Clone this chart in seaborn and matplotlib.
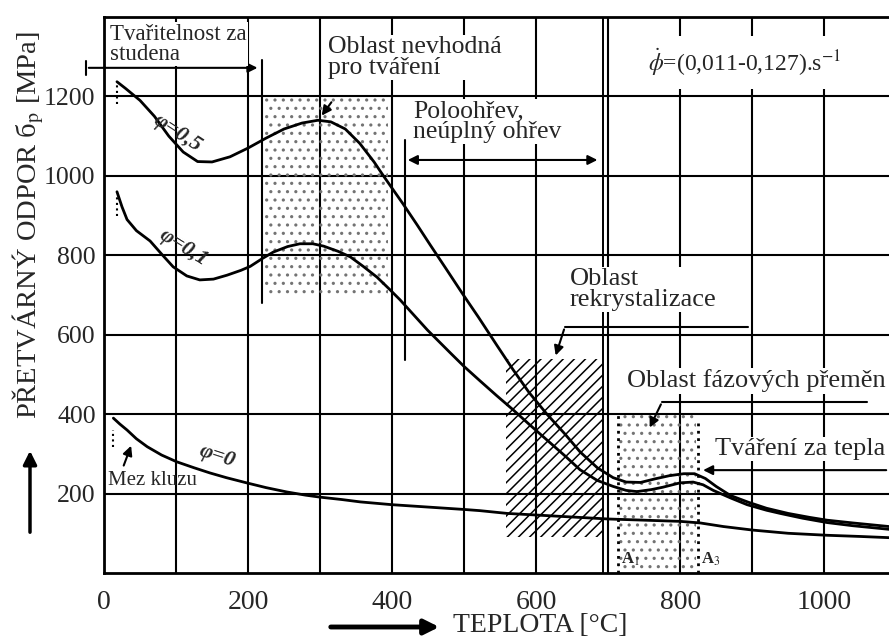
import pandas as pd
import matplotlib.pyplot as plt
import seaborn as sns

# krivky pretvarneho odporu (teplota [°C], odpor [MPa])
T_05 = [18, 30, 50, 70, 90, 110, 130, 150, 175, 200, 225, 250, 275, 297, 315, 335, 355, 375,
        388, 415, 435, 453, 475, 499, 520, 546, 568, 590, 615, 640, 661, 685, 707, 725, 745,
        765, 785, 805, 820, 835, 850, 870, 895, 920, 950, 980, 1004, 1040, 1090]
S_05 = [1237, 1220, 1190, 1150, 1100, 1060, 1036, 1035, 1048, 1070, 1095, 1118, 1133, 1140,
        1136, 1118, 1082, 1035, 1000, 930, 876, 826, 766, 700, 644, 572, 512, 455, 400, 350,
        305, 265, 240, 229, 228, 237, 245, 250, 250, 238, 218, 195, 178, 163, 150, 140, 133,
        126, 117]

T_01 = [18, 25, 32, 45, 64, 80, 96, 115, 133, 152, 171, 190, 203, 220, 235, 255, 272, 290,
        305, 325, 342, 360, 379, 395, 411, 430, 449, 465, 481, 500, 522, 545, 568, 590, 615,
        640, 661, 685, 707, 725, 740, 760, 776, 800, 818, 832, 846, 870, 893, 920, 939, 970,
        1004, 1040, 1090]
S_01 = [960, 922, 890, 862, 836, 803, 771, 748, 738, 740, 750, 762, 772, 792, 808, 822, 829,
        829, 823, 810, 796, 772, 745, 717, 688, 650, 612, 583, 554, 520, 484, 447, 411, 375,
        335, 295, 260, 233, 218, 208, 205, 210, 216, 227, 229, 222, 208, 189, 172, 158, 150,
        138, 127, 119, 110]

T_00 = [13, 22, 32, 45, 60, 80, 101, 125, 147, 170, 198, 225, 254, 280, 300, 330, 356, 400,
        450, 500, 522, 560, 600, 650, 700, 750, 800, 828, 860, 901, 950, 1004, 1050, 1090]
S_00 = [390, 375, 360, 338, 318, 297, 280, 265, 252, 240, 227, 215, 204, 196, 191, 185, 179,
        172, 166, 160, 157, 150, 146, 141, 136, 133, 130, 126, 117, 108, 100, 95, 92, 89]

# oblasti (teplota od-do, odpor od-do)
NEVHODNA_T = [224, 394]
NEVHODNA_S = [692, 1195]
REKRYST_T = [558, 693]
REKRYST_S = [90, 538]
FAZE_T = [714, 822]
FAZE_S = [0, 398]

X_TICKS = [0, 200, 400, 600, 800, 1000]
Y_TICKS = [200, 400, 600, 800, 1000, 1200]

sns.set_style("white")
plt.rcParams['font.family'] = ['Liberation Serif', 'DejaVu Serif']
plt.rcParams['mathtext.fontset'] = 'stix'
plt.rcParams['hatch.linewidth'] = 1.1

fig = plt.figure(figsize=(8.89, 6.42), dpi=100)
ax = fig.add_axes([104 / 889, 69 / 642, 785 / 889, 556 / 642])

df = pd.concat([
    pd.DataFrame({'T': T_05, 'S': S_05, 'phi': '0,5'}),
    pd.DataFrame({'T': T_01, 'S': S_01, 'phi': '0,1'}),
    pd.DataFrame({'T': T_00, 'S': S_00, 'phi': '0'}),
])
sns.lineplot(data=df, x='T', y='S', hue='phi', palette=['black'] * 3, sort=False,
             estimator=None, linewidth=2.0, legend=False, ax=ax, zorder=4)

ax.set_xlim(0, 1090)
ax.set_ylim(0, 1400)
ax.set_xticks(X_TICKS)
ax.set_xticks(range(100, 1100, 200), minor=True)
ax.set_yticks(Y_TICKS)
ax.set_xlabel('')
ax.set_ylabel('')
ax.grid(axis='x', which='both', color='black', lw=1.5)
ax.grid(axis='y', which='major', color='black', lw=1.5)
ax.set_axisbelow(True)
ax.tick_params(axis='x', which='both', length=0, pad=12, labelsize=20)
ax.tick_params(axis='y', length=5, width=1.5, pad=1, labelsize=18.5, color='black')
for s in ['left', 'bottom', 'top']:
    ax.spines[s].set_color('black')
    ax.spines[s].set_linewidth(2)
ax.spines['right'].set_visible(False)

# oblasti
ax.fill_between(NEVHODNA_T, NEVHODNA_S[0], NEVHODNA_S[1], facecolor='none',
                edgecolor='0.45', hatch='..', lw=0, zorder=2)
ax.fill_between(REKRYST_T, REKRYST_S[0], REKRYST_S[1], facecolor='none',
                edgecolor='black', hatch='///', lw=0, zorder=2)
ax.fill_between(FAZE_T, FAZE_S[0], FAZE_S[1], facecolor='none',
                edgecolor='0.45', hatch='..', lw=0, zorder=2)

ax.plot([219, 219], [680, 1292], color='black', lw=1.5, zorder=3)
ax.plot([418, 418], [537, 1090], color='black', lw=1.5, zorder=3)
ax.axvline(693, color='black', lw=1.4, zorder=1)
ax.plot([714, 714], [0, 398], color='black', lw=2, ls=':', zorder=3)
ax.plot([825, 825], [0, 378], color='black', lw=2, ls=':', zorder=3)
ax.plot([13, 13], [317, 360], color='black', lw=1.5, ls=':', zorder=3)
ax.plot([18, 18], [1180, 1230], color='black', lw=1.5, ls=':', zorder=3)
ax.plot([18, 18], [900, 955], color='black', lw=1.5, ls=':', zorder=3)

arw = dict(arrowstyle='-|>', color='black', lw=1.5, mutation_scale=14)
# tvaritelnost za studena
ax.annotate('', xy=(217, 1272), xytext=(-25, 1272), arrowprops=arw, annotation_clip=False)
ax.plot([-25, -25], [1255, 1290], color='black', lw=1.5, clip_on=False)
# poloohrev
ax.annotate('', xy=(689, 1040), xytext=(418, 1040),
            arrowprops=dict(arrowstyle='<|-|>', color='black', lw=1.5, mutation_scale=14))
# rekrystalizace
ax.plot([640, 894], [620, 620], color='black', lw=1.5, zorder=5)
ax.annotate('', xy=(626, 541), xytext=(640, 620), arrowprops=arw)
# fazove premeny
ax.plot([775, 1060], [431, 431], color='black', lw=1.5, zorder=5)
ax.annotate('', xy=(756, 360), xytext=(775, 431), arrowprops=arw)
# tvareni za tepla
ax.annotate('', xy=(828, 259), xytext=(1090, 259), arrowprops=arw)
# nevhodna oblast
ax.annotate('', xy=(300, 1146), xytext=(318, 1191), arrowprops=arw)
# mez kluzu
ax.annotate('', xy=(39, 327), xytext=(26, 264), arrowprops=arw)

box = dict(facecolor='white', edgecolor='none', pad=1)
ax.text(8, 1383, 'Tvařitelnost za\nstudena', fontsize=16.5, va='top', ha='left',
        linespacing=0.95, bbox=box, zorder=6)
ax.text(311, 1352, 'Oblast nevhodná\npro tváření', fontsize=18.5, va='top', ha='left',
        linespacing=0.95, bbox=box, zorder=6)
ax.text(429, 1191, 'Poloohřev,\nneúplný ohřev', fontsize=18.5, va='top', ha='left',
        linespacing=0.95, bbox=box, zorder=6)
ax.text(756, 1285, r'$\dot{\phi}$=(0,011-0,127).s$^{-1}$', fontsize=17, va='center',
        ha='left', bbox=dict(facecolor='white', edgecolor='none', pad=8), zorder=6)
ax.text(647, 768, 'Oblast\nrekrystalizace', fontsize=19, va='top', ha='left',
        linespacing=0.95, bbox=box, zorder=6)
ax.text(726, 484, 'Oblast fázových přeměn', fontsize=19, va='center', ha='left',
        bbox=box, zorder=6)
ax.text(849, 312, 'Tváření za tepla', fontsize=19, va='center', ha='left',
        bbox=box, zorder=6)
ax.text(6, 232, 'Mez kluzu', fontsize=15, va='center', ha='left', zorder=6)
ax.text(731, 35, r'A$_1$', fontsize=12, fontweight='bold', va='center', ha='center', zorder=6)
ax.text(842, 35, r'A$_3$', fontsize=12, fontweight='bold', va='center', ha='center', zorder=6)

ax.text(102, 1108, 'φ=0,5', fontsize=16, style='italic', fontweight='bold', rotation=-33,
        ha='center', va='center', zorder=6)
ax.text(110, 818, 'φ=0,1', fontsize=16, style='italic', fontweight='bold', rotation=-32,
        ha='center', va='center', zorder=6)
ax.text(157, 293, 'φ=0', fontsize=16, style='italic', fontweight='bold', rotation=-18,
        ha='center', va='center', zorder=6)

# popisky os
fig.text(28 / 889, 1 - 225 / 642, 'PŘETVÁRNÝ ODPOR б$_\\mathrm{p}$ [MPa]', rotation=90,
         ha='center', va='center', fontsize=20.5)
ax.annotate('', xy=(30 / 889, 1 - 448 / 642), xytext=(30 / 889, 1 - 535 / 642),
            xycoords='figure fraction', textcoords='figure fraction',
            arrowprops=dict(arrowstyle='-|>', color='black', lw=2.5, mutation_scale=20))
fig.text(453 / 889, 17 / 642, 'TEPLOTA [°C]', ha='left', va='center', fontsize=20)
ax.annotate('', xy=(442 / 889, 15 / 642), xytext=(328 / 889, 15 / 642),
            xycoords='figure fraction', textcoords='figure fraction',
            arrowprops=dict(arrowstyle='-|>', color='black', lw=3.5, mutation_scale=22))

fig.savefig('out.png', dpi=100)
